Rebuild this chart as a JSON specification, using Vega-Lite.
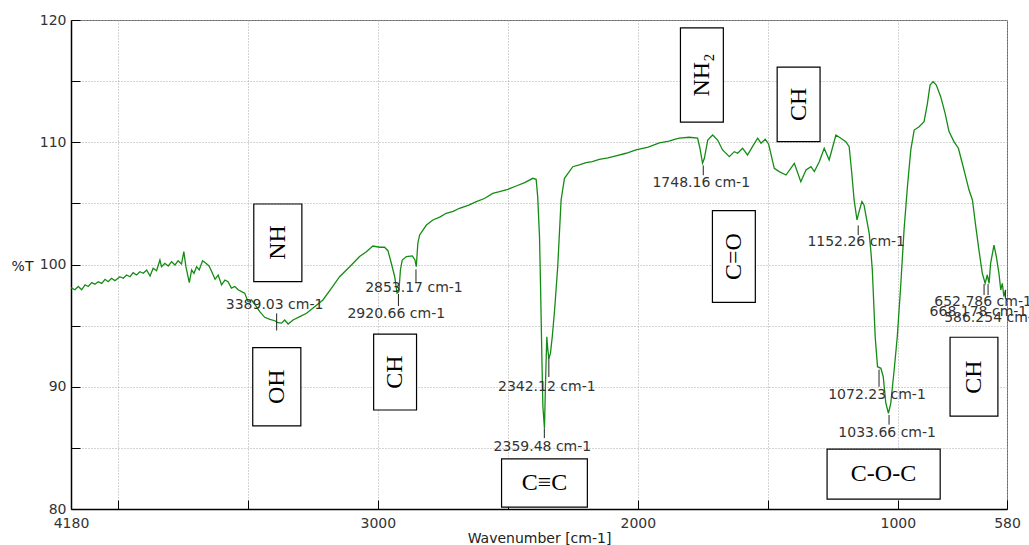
{
  "$schema": "https://vega.github.io/schema/vega-lite/v6.json",
  "width": 936,
  "height": 489,
  "autosize": {"type": "none"},
  "padding": {"left": 71, "top": 20, "right": 22, "bottom": 36},
  "background": "white",
  "datasets": {
    "spectrum": [
      {"wn":4180,"T":98.1},{"wn":4177,"T":98.07},{"wn":4165,"T":97.93},{"wn":4152,"T":98.2},{"wn":4139,"T":97.93},{"wn":4126,"T":98.34},{"wn":4114,"T":98.2},{"wn":4100,"T":98.52},{"wn":4088,"T":98.38},{"wn":4075,"T":98.59},{"wn":4062,"T":98.46},{"wn":4049,"T":98.79},{"wn":4037,"T":98.59},{"wn":4024,"T":98.87},{"wn":4011,"T":98.68},{"wn":3992,"T":99.0},{"wn":3979,"T":98.87},{"wn":3966,"T":99.14},{"wn":3953,"T":99.0},{"wn":3941,"T":99.33},{"wn":3928,"T":99.14},{"wn":3915,"T":99.41},{"wn":3902,"T":99.28},{"wn":3889,"T":99.55},{"wn":3876,"T":99.06},{"wn":3864,"T":99.69},{"wn":3851,"T":99.49},{"wn":3838,"T":100.37},{"wn":3832,"T":99.82},{"wn":3819,"T":100.1},{"wn":3806,"T":99.88},{"wn":3793,"T":100.23},{"wn":3780,"T":99.96},{"wn":3768,"T":100.31},{"wn":3755,"T":100.04},{"wn":3746,"T":101.05},{"wn":3738,"T":99.82},{"wn":3725,"T":98.52},{"wn":3716,"T":99.55},{"wn":3707,"T":99.28},{"wn":3697,"T":99.82},{"wn":3687,"T":99.55},{"wn":3674,"T":100.31},{"wn":3661,"T":100.1},{"wn":3649,"T":99.88},{"wn":3636,"T":99.28},{"wn":3626,"T":98.79},{"wn":3614,"T":99.14},{"wn":3601,"T":98.34},{"wn":3588,"T":98.73},{"wn":3576,"T":98.59},{"wn":3563,"T":98.07},{"wn":3550,"T":98.2},{"wn":3537,"T":97.93},{"wn":3524,"T":97.78},{"wn":3512,"T":97.66},{"wn":3499,"T":96.96},{"wn":3486,"T":97.1},{"wn":3467,"T":96.55},{"wn":3454,"T":96.14},{"wn":3435,"T":95.68},{"wn":3415,"T":95.51},{"wn":3396,"T":95.4},{"wn":3384,"T":95.24},{"wn":3370,"T":95.2},{"wn":3358,"T":95.46},{"wn":3345,"T":95.13},{"wn":3326,"T":95.46},{"wn":3300,"T":95.74},{"wn":3274,"T":96.01},{"wn":3243,"T":96.55},{"wn":3211,"T":97.1},{"wn":3178,"T":98.07},{"wn":3147,"T":99.0},{"wn":3108,"T":99.82},{"wn":3070,"T":100.65},{"wn":3044,"T":101.05},{"wn":3019,"T":101.51},{"wn":2993,"T":101.41},{"wn":2974,"T":101.41},{"wn":2961,"T":101.13},{"wn":2948,"T":100.1},{"wn":2935,"T":99.0},{"wn":2926,"T":97.66},{"wn":2919,"T":97.78},{"wn":2913,"T":99.55},{"wn":2906,"T":100.37},{"wn":2890,"T":100.65},{"wn":2867,"T":100.7},{"wn":2857,"T":100.37},{"wn":2852,"T":99.82},{"wn":2846,"T":101.74},{"wn":2839,"T":102.42},{"wn":2813,"T":103.23},{"wn":2788,"T":103.64},{"wn":2760,"T":103.9},{"wn":2737,"T":104.19},{"wn":2710,"T":104.35},{"wn":2686,"T":104.6},{"wn":2650,"T":104.85},{"wn":2621,"T":105.14},{"wn":2590,"T":105.4},{"wn":2558,"T":105.82},{"wn":2532,"T":105.96},{"wn":2500,"T":106.15},{"wn":2468,"T":106.42},{"wn":2435,"T":106.7},{"wn":2404,"T":107.05},{"wn":2391,"T":106.97},{"wn":2385,"T":105.55},{"wn":2378,"T":102.27},{"wn":2374,"T":98.18},{"wn":2369,"T":92.45},{"wn":2365,"T":88.37},{"wn":2359,"T":86.6},{"wn":2355,"T":90.28},{"wn":2350,"T":94.09},{"wn":2346,"T":93.0},{"wn":2342,"T":92.32},{"wn":2336,"T":92.73},{"wn":2329,"T":94.09},{"wn":2320,"T":96.28},{"wn":2308,"T":99.82},{"wn":2295,"T":105.28},{"wn":2282,"T":107.05},{"wn":2250,"T":108.0},{"wn":2225,"T":108.15},{"wn":2199,"T":108.33},{"wn":2175,"T":108.42},{"wn":2148,"T":108.6},{"wn":2115,"T":108.72},{"wn":2084,"T":108.88},{"wn":2045,"T":109.1},{"wn":2007,"T":109.37},{"wn":1960,"T":109.6},{"wn":1917,"T":109.94},{"wn":1880,"T":110.1},{"wn":1852,"T":110.27},{"wn":1840,"T":110.33},{"wn":1802,"T":110.41},{"wn":1770,"T":110.33},{"wn":1761,"T":109.51},{"wn":1751,"T":108.28},{"wn":1744,"T":108.69},{"wn":1731,"T":110.18},{"wn":1712,"T":110.59},{"wn":1693,"T":110.18},{"wn":1674,"T":109.37},{"wn":1648,"T":108.82},{"wn":1629,"T":109.23},{"wn":1616,"T":109.1},{"wn":1597,"T":109.51},{"wn":1578,"T":108.96},{"wn":1559,"T":109.64},{"wn":1539,"T":110.33},{"wn":1526,"T":109.92},{"wn":1510,"T":110.25},{"wn":1497,"T":109.86},{"wn":1475,"T":107.87},{"wn":1456,"T":107.6},{"wn":1430,"T":107.32},{"wn":1398,"T":108.28},{"wn":1373,"T":106.77},{"wn":1353,"T":107.73},{"wn":1334,"T":108.0},{"wn":1321,"T":107.6},{"wn":1302,"T":108.41},{"wn":1283,"T":109.51},{"wn":1264,"T":108.55},{"wn":1238,"T":110.59},{"wn":1219,"T":110.33},{"wn":1200,"T":110.05},{"wn":1187,"T":109.64},{"wn":1177,"T":107.46},{"wn":1168,"T":105.28},{"wn":1157,"T":103.64},{"wn":1149,"T":104.32},{"wn":1138,"T":105.14},{"wn":1130,"T":104.87},{"wn":1110,"T":102.55},{"wn":1104,"T":101.19},{"wn":1098,"T":99.55},{"wn":1087,"T":94.09},{"wn":1078,"T":91.64},{"wn":1065,"T":91.51},{"wn":1056,"T":90.82},{"wn":1046,"T":88.65},{"wn":1036,"T":87.83},{"wn":1027,"T":88.65},{"wn":1014,"T":91.37},{"wn":1002,"T":94.09},{"wn":989,"T":98.18},{"wn":976,"T":102.82},{"wn":963,"T":106.36},{"wn":950,"T":109.37},{"wn":937,"T":111.0},{"wn":918,"T":111.27},{"wn":899,"T":111.68},{"wn":886,"T":113.18},{"wn":876,"T":114.68},{"wn":864,"T":114.96},{"wn":852,"T":114.68},{"wn":835,"T":113.73},{"wn":818,"T":112.36},{"wn":803,"T":110.87},{"wn":784,"T":110.05},{"wn":767,"T":109.51},{"wn":752,"T":108.28},{"wn":739,"T":107.19},{"wn":726,"T":106.09},{"wn":713,"T":105.28},{"wn":700,"T":103.1},{"wn":688,"T":101.19},{"wn":675,"T":99.28},{"wn":664,"T":98.46},{"wn":656,"T":99.14},{"wn":649,"T":98.46},{"wn":643,"T":100.1},{"wn":630,"T":101.59},{"wn":621,"T":100.64},{"wn":611,"T":99.28},{"wn":604,"T":97.93},{"wn":598,"T":98.46},{"wn":592,"T":97.38},{"wn":585,"T":97.93}
    ],
    "peaks": [
      {"wn":3389.03,"tx":3397,"label":"3389.03 cm-1","t1":96.0,"t2":94.6,"ty":96.7},
      {"wn":2920.66,"tx":2929,"label":"2920.66 cm-1","t1":97.6,"t2":96.6,"ty":95.95},
      {"wn":2853.17,"tx":2861,"label":"2853.17 cm-1","t1":99.6,"t2":98.5,"ty":98.1},
      {"wn":2342.12,"tx":2350,"label":"2342.12 cm-1","t1":92.4,"t2":90.8,"ty":90.0},
      {"wn":2359.48,"tx":2367,"label":"2359.48 cm-1","t1":86.6,"t2":85.8,"ty":85.1},
      {"wn":1748.16,"tx":1756,"label":"1748.16 cm-1","t1":108.1,"t2":107.3,"ty":106.7},
      {"wn":1152.26,"tx":1160,"label":"1152.26 cm-1","t1":103.2,"t2":102.4,"ty":101.8},
      {"wn":1072.23,"tx":1080,"label":"1072.23 cm-1","t1":91.4,"t2":90.0,"ty":89.35},
      {"wn":1033.66,"tx":1041,"label":"1033.66 cm-1","t1":87.7,"t2":86.9,"ty":86.2},
      {"wn":668.178,"tx":690,"label":"668.178 cm-1","t1":98.4,"t2":97.5,"ty":96.1},
      {"wn":652.786,"tx":672,"label":"652.786 cm-1","t1":98.4,"t2":97.5,"ty":96.9},
      {"wn":586.254,"tx":634,"label":"586.254 cm-1","t1":97.9,"t2":97.2,"ty":95.6}
    ],
    "boxes": [
      {"name":"NH","x1":3477,"x2":3292,"y1":104.95,"y2":98.6,"cx":3385,"cy":101.8,"angle":270},
      {"name":"OH","x1":3481,"x2":3296,"y1":93.2,"y2":86.8,"cx":3389,"cy":90.0,"angle":270},
      {"name":"CH","x1":3016,"x2":2851,"y1":94.3,"y2":88.1,"cx":2933,"cy":91.2,"angle":270},
      {"name":"C≡C","x1":2524,"x2":2194,"y1":84.1,"y2":80.15,"cx":2359,"cy":82.1,"angle":0},
      {"name":"NH₂","x1":1836,"x2":1671,"y1":119.35,"y2":111.65,"cx":1754,"cy":115.5,"angle":270},
      {"name":"C=O","x1":1713,"x2":1548,"y1":104.4,"y2":96.9,"cx":1631,"cy":100.65,"angle":270},
      {"name":"CH","x1":1464,"x2":1299,"y1":116.15,"y2":110.05,"cx":1381,"cy":113.1,"angle":270},
      {"name":"C-O-C","x1":1272,"x2":837,"y1":84.9,"y2":80.8,"cx":1055,"cy":82.85,"angle":0},
      {"name":"CH","x1":799,"x2":615,"y1":94.05,"y2":87.6,"cx":707,"cy":90.8,"angle":270}
    ]
  },
  "layer": [
    {
      "data": {"name": "spectrum"},
      "mark": {"type": "line", "color": "#148c14", "strokeWidth": 1.3},
      "encoding": {
        "x": {
          "field": "wn", "type": "quantitative", "title": "Wavenumber [cm-1]",
          "scale": {"domain": [580, 4180], "reverse": true, "nice": false, "zero": false},
          "axis": {
            "values": [4180, 4000, 3500, 3000, 2500, 2000, 1500, 1000, 580],
            "labelExpr": "(datum.value==4180||datum.value==3000||datum.value==2000||datum.value==1000||datum.value==580)?format(datum.value,'d'):''",
            "labelFlush": false,
            "labelOverlap": false,
            "tickSize": -9,
            "labelPadding": 16,
            "grid": true,
            "titleY": 29,
            "titleBaseline": "middle"
          }
        },
        "y": {
          "field": "T", "type": "quantitative", "title": "%T",
          "scale": {"domain": [80, 120], "nice": false, "zero": false},
          "axis": {
            "values": [80, 85, 90, 95, 100, 105, 110, 115, 120],
            "labelExpr": "datum.value%10==0?format(datum.value,'d'):''",
            "labelOverlap": false,
            "tickSize": -9,
            "labelPadding": 14,
            "grid": true,
            "titleAngle": 0,
            "titleX": -49,
            "titleY": 246,
            "titleAlign": "center",
            "titleBaseline": "middle"
          }
        }
      }
    },
    {
      "data": {"name": "peaks"},
      "mark": {"type": "rule", "color": "#222", "strokeWidth": 1},
      "encoding": {
        "x": {"field": "wn", "type": "quantitative", "title": "Wavenumber [cm-1]"},
        "y": {"field": "t1", "type": "quantitative", "title": "%T"},
        "y2": {"field": "t2"}
      }
    },
    {
      "data": {"name": "peaks"},
      "mark": {"type": "text", "font": "DejaVu Sans", "fontSize": 14, "color": "#333", "align": "center", "baseline": "middle"},
      "encoding": {
        "x": {"field": "tx", "type": "quantitative", "title": "Wavenumber [cm-1]"},
        "y": {"field": "ty", "type": "quantitative", "title": "%T"},
        "text": {"field": "label"}
      }
    },
    {
      "data": {"name": "boxes"},
      "mark": {"type": "rect", "fill": "white", "stroke": "black", "strokeWidth": 1.2},
      "encoding": {
        "x": {"field": "x1", "type": "quantitative", "title": "Wavenumber [cm-1]"},
        "x2": {"field": "x2"},
        "y": {"field": "y1", "type": "quantitative", "title": "%T"},
        "y2": {"field": "y2"}
      }
    },
    {
      "data": {"name": "boxes"},
      "mark": {"type": "text", "font": "Liberation Serif", "fontSize": 24, "color": "black", "align": "center", "baseline": "middle"},
      "encoding": {
        "x": {"field": "cx", "type": "quantitative", "title": "Wavenumber [cm-1]"},
        "y": {"field": "cy", "type": "quantitative", "title": "%T"},
        "text": {"field": "name"},
        "angle": {"field": "angle", "type": "quantitative", "scale": null}
      }
    }
  ],
  "config": {
    "view": {"stroke": "#666", "strokeWidth": 1},
    "axis": {
      "labelFont": "DejaVu Sans",
      "labelFontSize": 14,
      "labelColor": "#333",
      "titleFont": "DejaVu Sans",
      "titleFontSize": 14,
      "titleFontWeight": "normal",
      "titleColor": "#222",
      "domainColor": "#000",
      "domainWidth": 1.5,
      "tickColor": "#000",
      "gridColor": "#a8a8a8",
      "gridDash": [1, 2],
      "gridWidth": 1
    }
  }
}
